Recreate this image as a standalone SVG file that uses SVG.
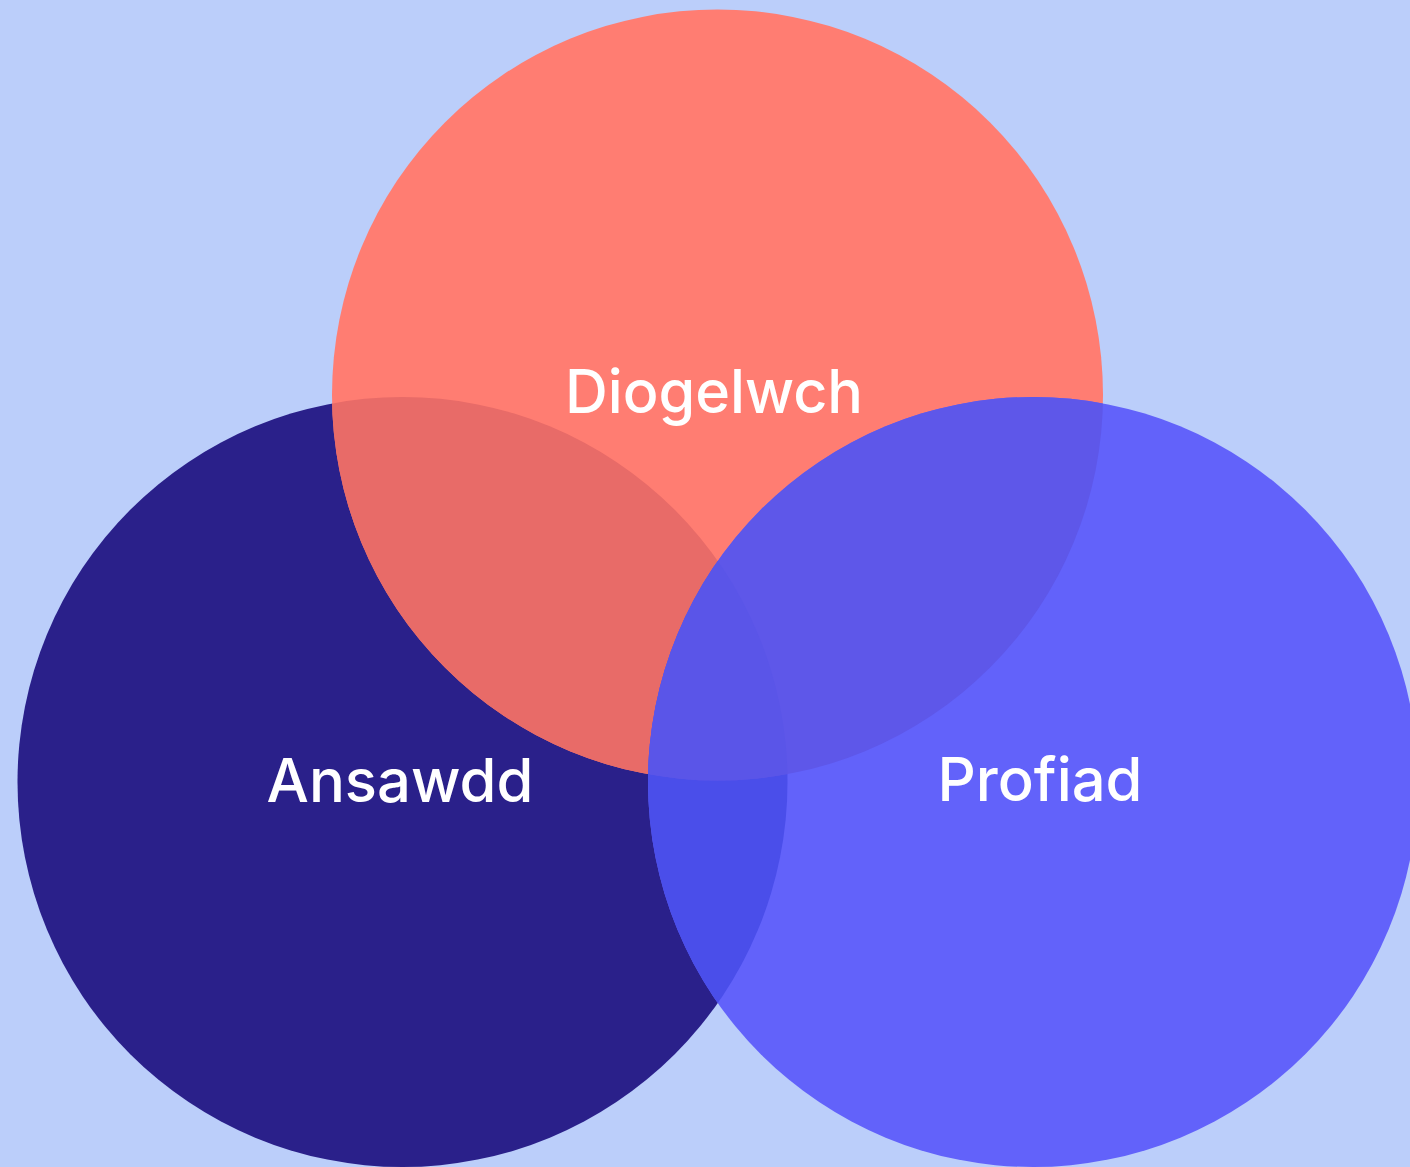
<svg xmlns="http://www.w3.org/2000/svg" width="1410" height="1167" viewBox="0 0 1410 1167">
<style>
.lbl{font-family:"Inter","Liberation Sans",sans-serif;font-size:60px;fill:#ffffff;text-anchor:middle;font-weight:500}
</style>
<defs>
<clipPath id="cL"><circle cx="402.5" cy="782" r="385"/></clipPath>
<clipPath id="cT"><circle cx="717.5" cy="395" r="385.5"/></clipPath>
<clipPath id="cR"><circle cx="1033" cy="782" r="385"/></clipPath>
</defs>
<rect width="1410" height="1167" fill="#bbcefa"/>
<g id="ansawdd"><circle cx="402.5" cy="782" r="385" fill="#2a208a"/></g>
<g id="diogelwch"><circle cx="717.5" cy="395" r="385.5" fill="#ff7d72"/></g>
<g id="profiad"><circle cx="1033" cy="782" r="385" fill="#6262fa"/></g>
<g id="overlaps">
<circle cx="717.5" cy="395" r="385.5" fill="#e86b68" clip-path="url(#cL)"/>
<circle cx="1033" cy="782" r="385" fill="#4a4eea" clip-path="url(#cL)"/>
<g clip-path="url(#cT)"><circle cx="1033" cy="782" r="385" fill="#5e57e9"/></g>
<g clip-path="url(#cL)"><g clip-path="url(#cT)"><circle cx="1033" cy="782" r="385" fill="#5a55e8"/></g></g>
</g>
<g id="labels">
<text class="lbl" x="714" y="413" textLength="298" lengthAdjust="spacingAndGlyphs">Diogelwch</text>
<text class="lbl" x="400" y="802" textLength="267" lengthAdjust="spacingAndGlyphs">Ansawdd</text>
<text class="lbl" x="1040" y="801" textLength="205" lengthAdjust="spacingAndGlyphs">Profiad</text>
</g>
</svg>
